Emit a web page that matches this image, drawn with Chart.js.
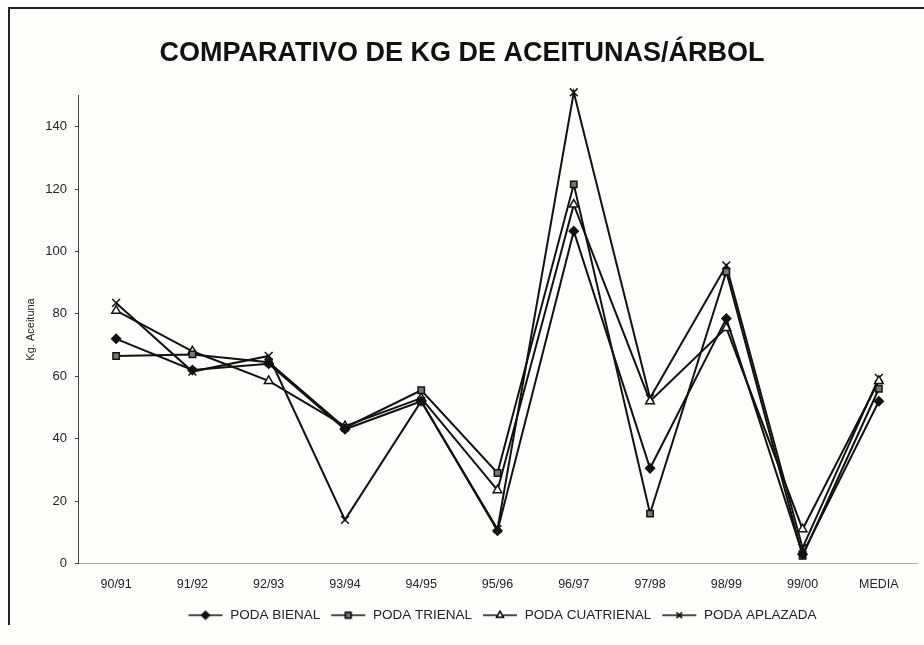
<!DOCTYPE html>
<html>
<head>
<meta charset="utf-8">
<script src="https://cdn.jsdelivr.net/npm/chart.js@4"></script>
<style>
  html, body { margin: 0; padding: 0; background: #fefefb; }
  #wrap { position: relative; width: 924px; height: 645px; }
</style>
</head>
<body>
<div id="wrap"><canvas id="chart"></canvas></div>
<script>
const categories = ['90/91', '91/92', '92/93', '93/94', '94/95', '95/96', '96/97', '97/98', '98/99', '99/00', 'MEDIA'];
const podaBienal = [72, 62, 64, 43, 52, 10.5, 106.5, 30.5, 78.5, 3, 52];
const podaTrienal = [66.5, 67, 64.5, 43.5, 55.5, 29, 121.5, 16, 93.5, 2.5, 56];
const podaCuatrienal = [81, 68, 58.5, 44, 53, 23.5, 115, 52, 75.5, 11, 58.5];
const podaAplazada = [83.5, 61.5, 66.5, 14, 52, 11, 151, 53, 95.5, 5, 59.5];
const yTicks = [0, 20, 40, 60, 80, 100, 120, 140];

const FONT = 'Liberation Sans, Arial, Helvetica, sans-serif';

const seriesStyle = [
    { label: 'PODA BIENAL', data: podaBienal, pointStyle: 'rectRot', fill: '#111', radius: 4.5 },
    { label: 'PODA TRIENAL', data: podaTrienal, pointStyle: 'rect', fill: '#777', radius: 4.5 },
    { label: 'PODA CUATRIENAL', data: podaCuatrienal, pointStyle: 'triangle', fill: '#fff', radius: 5 },
    { label: 'PODA APLAZADA', data: podaAplazada, pointStyle: 'crossRot', fill: '#111', radius: 5.5 }
];

// small legend icon: line with the marker in the middle
const makeLegendIcon = (style) => {
    const c = document.createElement('canvas');
    c.width = 36;
    c.height = 12;
    const ctx = c.getContext('2d');
    ctx.strokeStyle = '#111';
    ctx.lineWidth = 1.5;
    ctx.beginPath();
    ctx.moveTo(1, 6);
    ctx.lineTo(35, 6);
    ctx.stroke();
    ctx.fillStyle = style.fill;
    Chart.helpers.drawPoint(ctx, {
        pointStyle: style.pointStyle,
        radius: 3.8,
        rotation: 0,
        borderWidth: 1.5
    }, 18, 6);
    ctx.fill();
    ctx.stroke();
    return c;
};

const framePlugin = {
    id: 'frame',
    afterLayout(chart) {
        // legend sits a bit right of centre in the original
        chart.legend.left += 40;
        chart.legend.right += 40;
    },
    afterDraw(chart) {
        const ctx = chart.ctx;
        ctx.save();
        ctx.strokeStyle = '#222';
        ctx.lineWidth = 2;
        ctx.beginPath();
        ctx.moveTo(9, 625);
        ctx.lineTo(9, 8);
        ctx.lineTo(924, 8);
        ctx.stroke();
        ctx.restore();
    }
};

new Chart(document.getElementById('chart'), {
    type: 'line',
    data: {
        labels: categories,
        datasets: seriesStyle.map((s) => ({
            label: s.label,
            data: s.data,
            borderColor: '#111',
            backgroundColor: s.fill,
            borderWidth: 2,
            tension: 0,
            clip: false,
            pointStyle: s.pointStyle,
            pointRadius: s.radius,
            pointBorderWidth: 1.5,
            pointBorderColor: '#111',
            pointBackgroundColor: s.fill
        }))
    },
    options: {
        responsive: true,
        maintainAspectRatio: false,
        animation: false,
        layout: {
            padding: { top: 37, right: 0, bottom: 13, left: 0 }
        },
        plugins: {
            title: {
                display: true,
                text: 'COMPARATIVO DE KG DE ACEITUNAS/ÁRBOL',
                color: '#111',
                font: { family: FONT, size: 27, weight: 'bold' },
                padding: { top: 0, bottom: 26 }
            },
            legend: {
                position: 'bottom',
                labels: {
                    color: '#222',
                    usePointStyle: true,
                    pointStyleWidth: 36,
                    padding: 10,
                    font: { family: FONT, size: 13.5 },
                    generateLabels(chart) {
                        return chart.data.datasets.map((ds, i) => ({
                            text: ds.label,
                            pointStyle: makeLegendIcon(seriesStyle[i]),
                            fontColor: '#222',
                            lineWidth: 0,
                            strokeStyle: 'transparent',
                            fillStyle: 'transparent',
                            hidden: false,
                            datasetIndex: i
                        }));
                    }
                }
            },
            tooltip: { enabled: false }
        },
        scales: {
            x: {
                offset: true,
                grid: { display: false },
                border: { color: '#aaa', width: 1, dash: [3, 2] },
                ticks: {
                    color: '#222',
                    padding: 6,
                    maxRotation: 0,
                    font: { family: FONT, size: 12.5 }
                }
            },
            y: {
                min: 0,
                max: 150,
                afterFit(scale) { scale.width = 78; },
                afterBuildTicks(scale) {
                    scale.ticks = yTicks.map((v) => ({ value: v }));
                },
                grid: {
                    drawOnChartArea: false,
                    drawTicks: true,
                    tickLength: 3,
                    color: '#444'
                },
                border: { color: '#444', width: 1 },
                ticks: {
                    color: '#222',
                    padding: 8,
                    font: { family: FONT, size: 13 }
                },
                title: {
                    display: true,
                    text: 'Kg. Aceituna',
                    color: '#222',
                    padding: { top: 24, bottom: 0 },
                    font: { family: FONT, size: 11 }
                }
            }
        }
    },
    plugins: [framePlugin]
});
</script>
</body>
</html>
